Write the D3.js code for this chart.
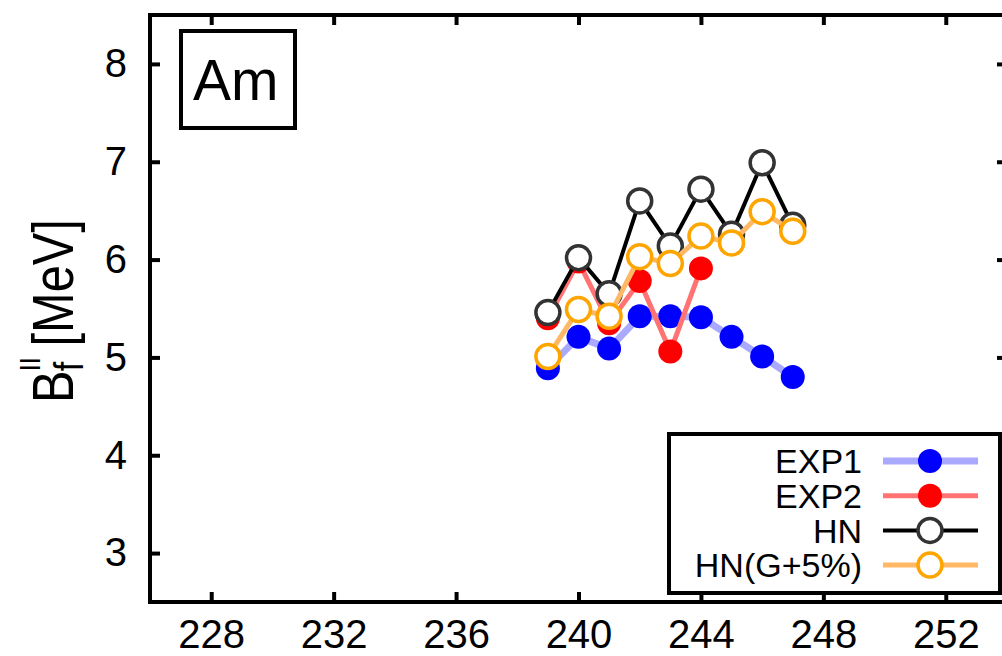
<!DOCTYPE html>
<html>
<head>
<meta charset="utf-8">
<script src="https://cdn.jsdelivr.net/npm/d3@7"></script>
<style>
  body { margin: 0; background: #fff; }
  svg text { font-family: "Liberation Sans", Arial, Helvetica, sans-serif; fill: #000; }
</style>
</head>
<body>
<svg id="chart" width="1002" height="656"></svg>
<script>
// Fission barrier heights B_f^II (MeV) of americium isotopes
const massNumbers = [239, 240, 241, 242, 243, 244, 245, 246, 247];
const exp1 = [4.89, 5.21, 5.09, 5.42, 5.42, 5.41, 5.21, 5.01, 4.80];
const exp2Mass = [239, 240, 241, 242, 243, 244];
const exp2 = [5.40, 5.98, 5.35, 5.78, 5.06, 5.91];
const hn = [5.46, 6.02, 5.65, 6.60, 6.14, 6.72, 6.26, 6.99, 6.35];
const hnG5 = [5.01, 5.49, 5.42, 6.03, 5.96, 6.24, 6.17, 6.49, 6.29];

const xTicks = [228, 232, 236, 240, 244, 248, 252];
const yTicks = [3, 4, 5, 6, 7, 8];
const seriesNames = ["EXP1", "EXP2", "HN", "HN(G+5%)"];
const elementLabel = "Am";

const svg = d3.select("#chart");
const x = d3.scaleLinear().domain([226, 254]).range([150, 1007]);
const y = d3.scaleLinear().domain([2.5, 8.5]).range([602, 15]);

const [x0, x1] = x.range();
const [y0, y1] = y.range();

// axes with inward ticks on all four sides
function styleAxis(g) {
  g.select(".domain").remove();
  g.selectAll(".tick line").attr("stroke", "#000").attr("stroke-width", 4);
  g.selectAll(".tick text").style("font-size", "40px").attr("fill", "#000");
}
svg.append("g").attr("transform", `translate(0,${y0})`)
  .call(d3.axisBottom(x).tickValues(xTicks).tickSize(-10).tickPadding(18).tickFormat(d3.format("d")))
  .call(styleAxis);
svg.append("g").attr("transform", `translate(0,${y1})`)
  .call(d3.axisTop(x).tickValues(xTicks).tickSize(-10).tickFormat(""))
  .call(styleAxis);
svg.append("g").attr("transform", `translate(${x0},0)`)
  .call(d3.axisLeft(y).tickValues(yTicks).tickSize(-10).tickPadding(23).tickFormat(d3.format("d")))
  .call(styleAxis);
svg.append("g").attr("transform", `translate(${x1},0)`)
  .call(d3.axisRight(y).tickValues(yTicks).tickSize(-10).tickFormat(""))
  .call(styleAxis);

// plot frame
svg.append("rect")
  .attr("x", x0).attr("y", y1).attr("width", x1 - x0).attr("height", y0 - y1)
  .attr("fill", "none").attr("stroke", "#000").attr("stroke-width", 4);

// y axis title: B with stacked subscript f and superscript II, then [MeV]
const yTitle = svg.append("g").attr("transform", "translate(73,403) rotate(-90) scale(0.84,1)");
const tB = yTitle.append("text").attr("x", 0).attr("y", 0).style("font-size", "58px").text("B");
const wB = tB.node().getComputedTextLength();
yTitle.append("text").attr("x", wB - 1).attr("y", 10).style("font-size", "40px").text("f");
const tII = yTitle.append("text").attr("x", wB - 1).attr("y", -33).style("font-size", "30px").text("II");
const wII = tII.node().getComputedTextLength();
yTitle.append("text").attr("x", wB + wII + 12).attr("y", 0).style("font-size", "58px").text("[MeV]");

// element label box
svg.append("rect").attr("x", 181).attr("y", 31).attr("width", 114).attr("height", 97)
  .attr("fill", "#fff").attr("stroke", "#000").attr("stroke-width", 4);
svg.append("text").attr("x", 193).attr("y", 100).style("font-size", "57px").text(elementLabel);

// series styles
const styles = [
  { line: "#a9a9ff", lw: 7, fill: "#0000ff", stroke: "#0000ff", sw: 0, r: 12 },
  { line: "#ff7373", lw: 5, fill: "#ff0000", stroke: "#ff0000", sw: 0, r: 12 },
  { line: "#000000", lw: 4, fill: "#ffffff", stroke: "#333333", sw: 3.5, r: 12 },
  { line: "#ffb866", lw: 5, fill: "#ffffff", stroke: "#ffa500", sw: 3.5, r: 12 }
];
const seriesData = [
  massNumbers.map((m, i) => [m, exp1[i]]),
  exp2Mass.map((m, i) => [m, exp2[i]]),
  massNumbers.map((m, i) => [m, hn[i]]),
  massNumbers.map((m, i) => [m, hnG5[i]])
];

const line = d3.line().x(d => x(d[0])).y(d => y(d[1]));
seriesData.forEach((data, k) => {
  const s = styles[k];
  const g = svg.append("g");
  g.append("path").datum(data).attr("d", line)
    .attr("fill", "none").attr("stroke", s.line).attr("stroke-width", s.lw)
    .attr("stroke-linejoin", "round");
  g.selectAll("circle").data(data).join("circle")
    .attr("cx", d => x(d[0])).attr("cy", d => y(d[1])).attr("r", s.r)
    .attr("fill", s.fill).attr("stroke", s.stroke).attr("stroke-width", s.sw);
});

// legend
const legend = svg.append("g");
legend.append("rect").attr("x", 669).attr("y", 434).attr("width", 331).attr("height", 159)
  .attr("fill", "#fff").attr("stroke", "#000").attr("stroke-width", 4);
seriesNames.forEach((name, k) => {
  const s = styles[k];
  const cy = 461 + k * 34.7;
  legend.append("text").attr("x", 862).attr("y", cy).attr("dy", "0.36em")
    .attr("text-anchor", "end").style("font-size", "34px").text(name);
  legend.append("line").attr("x1", 883).attr("x2", 978).attr("y1", cy).attr("y2", cy)
    .attr("stroke", s.line).attr("stroke-width", s.lw);
  legend.append("circle").attr("cx", 930).attr("cy", cy).attr("r", s.r)
    .attr("fill", s.fill).attr("stroke", s.stroke).attr("stroke-width", s.sw);
});
</script>
</body>
</html>
